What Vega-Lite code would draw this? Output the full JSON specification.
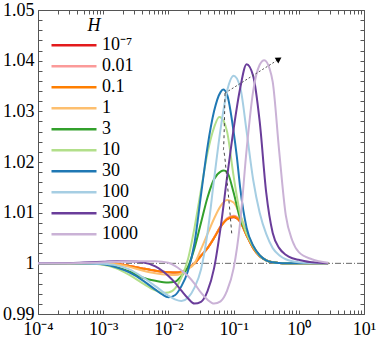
{
 "$schema": "https://vega.github.io/schema/vega-lite/v6.json",
 "width": 326, "height": 304,
 "autosize": "none",
 "padding": {"left": 38, "top": 10, "right": 16, "bottom": 24},
 "background": "white",
 "config": {"view": {"stroke": null}, "font": "Liberation Serif"},
 "datasets": {
  "curves": [
   {"H":"10⁻⁷","x":0.0001,"y":1},{"H":"10⁻⁷","x":0.000316,"y":1},{"H":"10⁻⁷","x":0.000631,"y":1},{"H":"10⁻⁷","x":0.001,"y":0.99998},{"H":"10⁻⁷","x":0.001585,"y":0.9999},{"H":"10⁻⁷","x":0.002512,"y":0.9995},{"H":"10⁻⁷","x":0.003981,"y":0.999},{"H":"10⁻⁷","x":0.00631,"y":0.99855},{"H":"10⁻⁷","x":0.01,"y":0.99825},{"H":"10⁻⁷","x":0.01259,"y":0.99818},{"H":"10⁻⁷","x":0.01585,"y":0.9983},{"H":"10⁻⁷","x":0.01995,"y":0.999},{"H":"10⁻⁷","x":0.02512,"y":0.99995},{"H":"10⁻⁷","x":0.03162,"y":1.0015},{"H":"10⁻⁷","x":0.03981,"y":1.003},{"H":"10⁻⁷","x":0.05012,"y":1.005},{"H":"10⁻⁷","x":0.0631,"y":1.0072},{"H":"10⁻⁷","x":0.07943,"y":1.0087},{"H":"10⁻⁷","x":0.1,"y":1.0091},{"H":"10⁻⁷","x":0.1259,"y":1.0082},{"H":"10⁻⁷","x":0.1585,"y":1.0055},{"H":"10⁻⁷","x":0.1995,"y":1.003},{"H":"10⁻⁷","x":0.2512,"y":1.0014},{"H":"10⁻⁷","x":0.3162,"y":1.0006},{"H":"10⁻⁷","x":0.3981,"y":1.0002},{"H":"10⁻⁷","x":0.5012,"y":1.00005},{"H":"10⁻⁷","x":0.631,"y":1},{"H":"10⁻⁷","x":1,"y":1},{"H":"10⁻⁷","x":1.585,"y":1},{"H":"10⁻⁷","x":2.818,"y":1},

   {"H":"0.01","x":0.0001,"y":1},{"H":"0.01","x":0.000316,"y":1},{"H":"0.01","x":0.000631,"y":1},{"H":"0.01","x":0.001,"y":0.99998},{"H":"0.01","x":0.001585,"y":0.9999},{"H":"0.01","x":0.002512,"y":0.9995},{"H":"0.01","x":0.003981,"y":0.999},{"H":"0.01","x":0.00631,"y":0.99855},{"H":"0.01","x":0.01,"y":0.99825},{"H":"0.01","x":0.01259,"y":0.99818},{"H":"0.01","x":0.01585,"y":0.9983},{"H":"0.01","x":0.01995,"y":0.999},{"H":"0.01","x":0.02512,"y":0.99995},{"H":"0.01","x":0.03162,"y":1.0015},{"H":"0.01","x":0.03981,"y":1.003},{"H":"0.01","x":0.05012,"y":1.0051},{"H":"0.01","x":0.0631,"y":1.0073},{"H":"0.01","x":0.07943,"y":1.0089},{"H":"0.01","x":0.1,"y":1.0094},{"H":"0.01","x":0.1259,"y":1.0085},{"H":"0.01","x":0.1585,"y":1.0057},{"H":"0.01","x":0.1995,"y":1.0031},{"H":"0.01","x":0.2512,"y":1.0014},{"H":"0.01","x":0.3162,"y":1.0006},{"H":"0.01","x":0.3981,"y":1.0002},{"H":"0.01","x":0.5012,"y":1.00005},{"H":"0.01","x":0.631,"y":1},{"H":"0.01","x":1,"y":1},{"H":"0.01","x":1.585,"y":1},{"H":"0.01","x":2.818,"y":1},

   {"H":"0.1","x":0.0001,"y":1},{"H":"0.1","x":0.000316,"y":1},{"H":"0.1","x":0.000631,"y":1},{"H":"0.1","x":0.001,"y":0.99998},{"H":"0.1","x":0.001585,"y":0.9999},{"H":"0.1","x":0.002512,"y":0.9995},{"H":"0.1","x":0.003981,"y":0.999},{"H":"0.1","x":0.00631,"y":0.99855},{"H":"0.1","x":0.01,"y":0.99825},{"H":"0.1","x":0.01259,"y":0.99818},{"H":"0.1","x":0.01585,"y":0.9983},{"H":"0.1","x":0.01995,"y":0.999},{"H":"0.1","x":0.02512,"y":0.99995},{"H":"0.1","x":0.03162,"y":1.0015},{"H":"0.1","x":0.03981,"y":1.003},{"H":"0.1","x":0.05012,"y":1.005},{"H":"0.1","x":0.0631,"y":1.0072},{"H":"0.1","x":0.07943,"y":1.0087},{"H":"0.1","x":0.1,"y":1.0092},{"H":"0.1","x":0.1259,"y":1.0082},{"H":"0.1","x":0.1585,"y":1.0055},{"H":"0.1","x":0.1995,"y":1.003},{"H":"0.1","x":0.2512,"y":1.0014},{"H":"0.1","x":0.3162,"y":1.0006},{"H":"0.1","x":0.3981,"y":1.0002},{"H":"0.1","x":0.5012,"y":1.00005},{"H":"0.1","x":0.631,"y":1},{"H":"0.1","x":1,"y":1},{"H":"0.1","x":1.585,"y":1},{"H":"0.1","x":2.818,"y":1},

   {"H":"1","x":0.0001,"y":1},{"H":"1","x":0.000316,"y":1},{"H":"1","x":0.000631,"y":0.99999},{"H":"1","x":0.001,"y":0.99995},{"H":"1","x":0.001585,"y":0.9998},{"H":"1","x":0.002512,"y":0.9993},{"H":"1","x":0.003981,"y":0.9986},{"H":"1","x":0.00631,"y":0.99805},{"H":"1","x":0.01,"y":0.99775},{"H":"1","x":0.01259,"y":0.9977},{"H":"1","x":0.01585,"y":0.998},{"H":"1","x":0.01995,"y":0.99885},{"H":"1","x":0.02512,"y":1},{"H":"1","x":0.03162,"y":1.0028},{"H":"1","x":0.03981,"y":1.0058},{"H":"1","x":0.05012,"y":1.0088},{"H":"1","x":0.0631,"y":1.0113},{"H":"1","x":0.07943,"y":1.0125},{"H":"1","x":0.1,"y":1.012},{"H":"1","x":0.1259,"y":1.0095},{"H":"1","x":0.1585,"y":1.0062},{"H":"1","x":0.1995,"y":1.0034},{"H":"1","x":0.2512,"y":1.0016},{"H":"1","x":0.3162,"y":1.0006},{"H":"1","x":0.3981,"y":1.0002},{"H":"1","x":0.5012,"y":1.00005},{"H":"1","x":0.631,"y":1},{"H":"1","x":1,"y":1},{"H":"1","x":1.585,"y":1},{"H":"1","x":2.818,"y":1},

   {"H":"3","x":0.0001,"y":1},{"H":"3","x":0.000316,"y":1},{"H":"3","x":0.000631,"y":0.99998},{"H":"3","x":0.001,"y":0.9998},{"H":"3","x":0.001585,"y":0.9993},{"H":"3","x":0.002512,"y":0.9984},{"H":"3","x":0.003981,"y":0.9972},{"H":"3","x":0.00631,"y":0.99655},{"H":"3","x":0.01,"y":0.9962},{"H":"3","x":0.01259,"y":0.99635},{"H":"3","x":0.01585,"y":0.9975},{"H":"3","x":0.01995,"y":0.9993},{"H":"3","x":0.02512,"y":1.003},{"H":"3","x":0.03162,"y":1.008},{"H":"3","x":0.03981,"y":1.013},{"H":"3","x":0.05012,"y":1.0166},{"H":"3","x":0.0631,"y":1.0181},{"H":"3","x":0.07079,"y":1.0183},{"H":"3","x":0.07943,"y":1.018},{"H":"3","x":0.1,"y":1.014},{"H":"3","x":0.1259,"y":1.0088},{"H":"3","x":0.1585,"y":1.006},{"H":"3","x":0.1995,"y":1.0033},{"H":"3","x":0.2512,"y":1.0015},{"H":"3","x":0.3162,"y":1.0006},{"H":"3","x":0.3981,"y":1.0002},{"H":"3","x":0.5012,"y":1.00005},{"H":"3","x":0.631,"y":1},{"H":"3","x":1,"y":1},{"H":"3","x":1.585,"y":1},{"H":"3","x":2.818,"y":1},

   {"H":"10","x":0.0001,"y":1},{"H":"10","x":0.000316,"y":1},{"H":"10","x":0.000631,"y":0.99995},{"H":"10","x":0.001,"y":0.9997},{"H":"10","x":0.001585,"y":0.999},{"H":"10","x":0.002512,"y":0.9977},{"H":"10","x":0.003981,"y":0.9961},{"H":"10","x":0.00631,"y":0.99465},{"H":"10","x":0.007943,"y":0.9942},{"H":"10","x":0.01,"y":0.99425},{"H":"10","x":0.01259,"y":0.995},{"H":"10","x":0.01585,"y":0.9972},{"H":"10","x":0.01995,"y":1.0008},{"H":"10","x":0.02512,"y":1.007},{"H":"10","x":0.03162,"y":1.0145},{"H":"10","x":0.03981,"y":1.0218},{"H":"10","x":0.05012,"y":1.0268},{"H":"10","x":0.06026,"y":1.0289},{"H":"10","x":0.07079,"y":1.028},{"H":"10","x":0.07943,"y":1.026},{"H":"10","x":0.1,"y":1.0172},{"H":"10","x":0.1259,"y":1.0098},{"H":"10","x":0.1585,"y":1.0058},{"H":"10","x":0.1995,"y":1.0033},{"H":"10","x":0.2512,"y":1.0015},{"H":"10","x":0.3162,"y":1.0006},{"H":"10","x":0.3981,"y":1.0002},{"H":"10","x":0.5012,"y":1.00005},{"H":"10","x":0.631,"y":1},{"H":"10","x":1,"y":1},{"H":"10","x":1.585,"y":1},{"H":"10","x":2.818,"y":1},

   {"H":"30","x":0.0001,"y":1},{"H":"30","x":0.000316,"y":1},{"H":"30","x":0.000631,"y":0.99995},{"H":"30","x":0.001,"y":0.9998},{"H":"30","x":0.001585,"y":0.9992},{"H":"30","x":0.002512,"y":0.9982},{"H":"30","x":0.003981,"y":0.9967},{"H":"30","x":0.00631,"y":0.9948},{"H":"30","x":0.007943,"y":0.9939},{"H":"30","x":0.01,"y":0.9933},{"H":"30","x":0.01259,"y":0.9937},{"H":"30","x":0.01585,"y":0.9955},{"H":"30","x":0.01995,"y":0.9985},{"H":"30","x":0.02512,"y":1.004},{"H":"30","x":0.03162,"y":1.0135},{"H":"30","x":0.03981,"y":1.023},{"H":"30","x":0.05012,"y":1.03},{"H":"30","x":0.0631,"y":1.0338},{"H":"30","x":0.06918,"y":1.0343},{"H":"30","x":0.07943,"y":1.0333},{"H":"30","x":0.1,"y":1.026},{"H":"30","x":0.1122,"y":1.021},{"H":"30","x":0.1259,"y":1.015},{"H":"30","x":0.1585,"y":1.007},{"H":"30","x":0.1995,"y":1.0035},{"H":"30","x":0.2512,"y":1.0016},{"H":"30","x":0.3162,"y":1.0006},{"H":"30","x":0.3981,"y":1.0002},{"H":"30","x":0.5012,"y":1.00005},{"H":"30","x":0.631,"y":1},{"H":"30","x":1,"y":1},{"H":"30","x":1.585,"y":1},{"H":"30","x":2.818,"y":1},

   {"H":"100","x":0.0001,"y":1},{"H":"100","x":0.000316,"y":1},{"H":"100","x":0.000631,"y":0.99998},{"H":"100","x":0.001,"y":0.9999},{"H":"100","x":0.001585,"y":0.9996},{"H":"100","x":0.002512,"y":0.9988},{"H":"100","x":0.003981,"y":0.9973},{"H":"100","x":0.00631,"y":0.9955},{"H":"100","x":0.01,"y":0.9936},{"H":"100","x":0.01259,"y":0.9929},{"H":"100","x":0.01585,"y":0.99256},{"H":"100","x":0.01995,"y":0.9932},{"H":"100","x":0.02512,"y":0.9952},{"H":"100","x":0.03162,"y":0.9988},{"H":"100","x":0.03981,"y":1.006},{"H":"100","x":0.05012,"y":1.0165},{"H":"100","x":0.0631,"y":1.0265},{"H":"100","x":0.07943,"y":1.034},{"H":"100","x":0.1,"y":1.037},{"H":"100","x":0.1259,"y":1.0348},{"H":"100","x":0.1585,"y":1.026},{"H":"100","x":0.1995,"y":1.0165},{"H":"100","x":0.2512,"y":1.01},{"H":"100","x":0.3162,"y":1.0058},{"H":"100","x":0.3981,"y":1.003},{"H":"100","x":0.5012,"y":1.0016},{"H":"100","x":0.631,"y":1.0008},{"H":"100","x":0.7943,"y":1.0004},{"H":"100","x":1,"y":1.0002},{"H":"100","x":1.585,"y":1.00005},{"H":"100","x":2.818,"y":1},

   {"H":"300","x":0.0001,"y":1},{"H":"300","x":0.000316,"y":1.00005},{"H":"300","x":0.000631,"y":1.0002},{"H":"300","x":0.001,"y":1.0003},{"H":"300","x":0.001585,"y":1.0004},{"H":"300","x":0.002512,"y":1.0004},{"H":"300","x":0.003981,"y":1.0002},{"H":"300","x":0.00631,"y":0.9994},{"H":"300","x":0.01,"y":0.9975},{"H":"300","x":0.01259,"y":0.9962},{"H":"300","x":0.01585,"y":0.9946},{"H":"300","x":0.01995,"y":0.9931},{"H":"300","x":0.02512,"y":0.99205},{"H":"300","x":0.03162,"y":0.9924},{"H":"300","x":0.03981,"y":0.9945},{"H":"300","x":0.05012,"y":0.999},{"H":"300","x":0.0631,"y":1.007},{"H":"300","x":0.07943,"y":1.017},{"H":"300","x":0.1,"y":1.0265},{"H":"300","x":0.1259,"y":1.0345},{"H":"300","x":0.1585,"y":1.0393},{"H":"300","x":0.1995,"y":1.037},{"H":"300","x":0.2512,"y":1.028},{"H":"300","x":0.3162,"y":1.014},{"H":"300","x":0.3981,"y":1.006},{"H":"300","x":0.5012,"y":1.003},{"H":"300","x":0.631,"y":1.0017},{"H":"300","x":0.7943,"y":1.001},{"H":"300","x":1,"y":1.0007},{"H":"300","x":1.585,"y":1.0002},{"H":"300","x":2.818,"y":1},

   {"H":"1000","x":0.0001,"y":1},{"H":"1000","x":0.000316,"y":1.00003},{"H":"1000","x":0.000631,"y":1.0001},{"H":"1000","x":0.001,"y":1.0002},{"H":"1000","x":0.001585,"y":1.0003},{"H":"1000","x":0.002512,"y":1.0004},{"H":"1000","x":0.003981,"y":1.0004},{"H":"1000","x":0.00631,"y":1.0004},{"H":"1000","x":0.01,"y":1.0001},{"H":"1000","x":0.01259,"y":0.9995},{"H":"1000","x":0.01585,"y":0.9986},{"H":"1000","x":0.01995,"y":0.9975},{"H":"1000","x":0.02512,"y":0.996},{"H":"1000","x":0.03162,"y":0.9942},{"H":"1000","x":0.03981,"y":0.9928},{"H":"1000","x":0.05012,"y":0.99205},{"H":"1000","x":0.0631,"y":0.9925},{"H":"1000","x":0.07943,"y":0.9946},{"H":"1000","x":0.1,"y":0.999},{"H":"1000","x":0.1259,"y":1.008},{"H":"1000","x":0.1585,"y":1.0225},{"H":"1000","x":0.1995,"y":1.034},{"H":"1000","x":0.2512,"y":1.0392},{"H":"1000","x":0.2951,"y":1.0401},{"H":"1000","x":0.3548,"y":1.0385},{"H":"1000","x":0.3981,"y":1.0358},{"H":"1000","x":0.5012,"y":1.022},{"H":"1000","x":0.631,"y":1.0095},{"H":"1000","x":0.7943,"y":1.0045},{"H":"1000","x":1,"y":1.0022},{"H":"1000","x":1.585,"y":1.0008},{"H":"1000","x":2.818,"y":1.0001}
  ]
 },
 "layer": [
  {
   "data": {"values": [{"x": 0.0001, "y": 1}, {"x": 10, "y": 1}]},
   "mark": {"type": "line", "stroke": "#666666", "strokeWidth": 1, "strokeDash": [6, 2, 1, 2]},
   "encoding": {
    "x": {"field": "x", "type": "quantitative", "scale": {"type": "log", "domain": [0.0001, 10], "nice": false},
     "axis": {"orient": "top", "title": null, "labels": false, "grid": false, "tickSize": -4, "domainColor": "#555555", "tickColor": "#555555",
      "values": [0.0001,0.0002,0.0003,0.0004,0.0005,0.0006,0.0007,0.0008,0.0009,0.001,0.002,0.003,0.004,0.005,0.006,0.007,0.008,0.009,0.01,0.02,0.03,0.04,0.05,0.06,0.07,0.08,0.09,0.1,0.2,0.3,0.4,0.5,0.6,0.7,0.8,0.9,1,2,3,4,5,6,7,8,9,10]}},
    "y": {"field": "y", "type": "quantitative", "scale": {"domain": [0.99, 1.05], "nice": false, "zero": false},
     "axis": {"orient": "right", "title": null, "labels": false, "grid": false, "tickSize": -4, "domainColor": "#555555", "tickColor": "#555555",
      "values": [0.99,0.992,0.994,0.996,0.998,1,1.002,1.004,1.006,1.008,1.01,1.012,1.014,1.016,1.018,1.02,1.022,1.024,1.026,1.028,1.03,1.032,1.034,1.036,1.038,1.04,1.042,1.044,1.046,1.048,1.05]}}
   }
  },
  {
   "data": {"name": "curves"},
   "mark": {"type": "line", "strokeWidth": 2, "interpolate": "monotone"},
   "encoding": {
    "x": {"field": "x", "type": "quantitative", "scale": {"type": "log", "domain": [0.0001, 10], "nice": false},
     "axis": {"orient": "bottom", "title": null, "grid": false, "tickSize": -4, "domainColor": "#555555", "tickColor": "#555555",
      "labelFont": "Liberation Serif", "labelFontSize": 18, "labelColor": "#000000", "labelPadding": 10, "labelOverlap": false, "labelFlush": false, "labelBound": false,
      "labelExpr": "datum.value == 0.0001 ? '10⁻⁴' : datum.value == 0.001 ? '10⁻³' : datum.value == 0.01 ? '10⁻²' : datum.value == 0.1 ? '10⁻¹' : datum.value == 1 ? '10⁰' : datum.value == 10 ? '10¹' : ''",
      "values": [0.0001,0.0002,0.0003,0.0004,0.0005,0.0006,0.0007,0.0008,0.0009,0.001,0.002,0.003,0.004,0.005,0.006,0.007,0.008,0.009,0.01,0.02,0.03,0.04,0.05,0.06,0.07,0.08,0.09,0.1,0.2,0.3,0.4,0.5,0.6,0.7,0.8,0.9,1,2,3,4,5,6,7,8,9,10]}},
    "y": {"field": "y", "type": "quantitative", "scale": {"domain": [0.99, 1.05], "nice": false, "zero": false},
     "axis": {"orient": "left", "title": null, "grid": false, "tickSize": -4, "domainColor": "#555555", "tickColor": "#555555",
      "labelFont": "Liberation Serif", "labelFontSize": 18, "labelColor": "#000000", "labelPadding": 8, "labelOverlap": false, "labelFlush": false, "labelBound": false,
      "labelExpr": "abs(datum.value*100 - round(datum.value*100)) < 0.001 ? '' + (round(datum.value*100)/100) : ''",
      "values": [0.99,0.992,0.994,0.996,0.998,1,1.002,1.004,1.006,1.008,1.01,1.012,1.014,1.016,1.018,1.02,1.022,1.024,1.026,1.028,1.03,1.032,1.034,1.036,1.038,1.04,1.042,1.044,1.046,1.048,1.05]}},
    "color": {"field": "H", "type": "nominal",
     "scale": {"domain": ["10⁻⁷","0.01","0.1","1","3","10","30","100","300","1000"],
               "range": ["#e31a1c","#fb9a99","#ff7f00","#fdbf6f","#33a02c","#b2df8a","#1f78b4","#a6cee3","#6a3d9a","#cab2d6"]},
     "legend": {"orient": "none", "legendX": 12, "legendY": 7, "title": "H", "titleFont": "Liberation Serif", "titleFontSize": 18, "titleFontStyle": "italic", "titleFontWeight": "normal", "titleColor": "#000000", "titleAnchor": "middle", "titleAlign": "center", "titlePadding": 0,
      "symbolType": "stroke", "symbolSize": 2025, "symbolStrokeWidth": 2.5, "labelFont": "Liberation Serif", "labelFontSize": 18, "labelColor": "#000000", "labelOffset": 4, "clipHeight": 20.5, "rowPadding": 0, "padding": 0}}
   }
  },
  {
   "data": {"values": [{"i": 1, "x": 0.07379, "y": 1.0336}, {"i": 2, "x": 0.0695, "y": 1.02235}, {"i": 3, "x": 0.07998, "y": 1.01578}, {"i": 4, "x": 0.09354, "y": 1.00592}]},
   "mark": {"type": "line", "stroke": "#444444", "strokeWidth": 1, "strokeDash": [3, 3], "interpolate": "monotone"},
   "encoding": {
    "x": {"field": "x", "type": "quantitative", "scale": {"type": "log", "domain": [0.0001, 10], "nice": false}, "axis": null},
    "y": {"field": "y", "type": "quantitative", "scale": {"domain": [0.99, 1.05], "nice": false, "zero": false}, "axis": null},
    "order": {"field": "i"}
   }
  },
  {
   "data": {"values": [{"x": 0.07379, "y": 1.0336}, {"x": 0.4966, "y": 1.0403}]},
   "mark": {"type": "line", "stroke": "#555555", "strokeWidth": 1, "strokeDash": [2, 2]},
   "encoding": {
    "x": {"field": "x", "type": "quantitative", "scale": {"type": "log", "domain": [0.0001, 10], "nice": false}, "axis": null},
    "y": {"field": "y", "type": "quantitative", "scale": {"domain": [0.99, 1.05], "nice": false, "zero": false}, "axis": null}
   }
  },
  {
   "data": {"values": [{"x": 0.4966, "y": 1.0403}]},
   "mark": {"type": "point", "shape": "triangle-up", "filled": true, "color": "#000000", "size": 45, "angle": 58, "opacity": 1},
   "encoding": {
    "x": {"field": "x", "type": "quantitative", "scale": {"type": "log", "domain": [0.0001, 10], "nice": false}, "axis": null},
    "y": {"field": "y", "type": "quantitative", "scale": {"domain": [0.99, 1.05], "nice": false, "zero": false}, "axis": null}
   }
  }
 ],
 "resolve": {"axis": {"x": "independent", "y": "independent"}}
}
